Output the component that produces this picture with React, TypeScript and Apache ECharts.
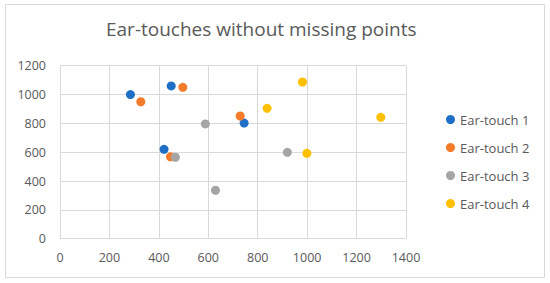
import React, { useEffect, useRef } from "react";
import * as echarts from "echarts";

const seriesNames = ["Ear-touch 1", "Ear-touch 2", "Ear-touch 3", "Ear-touch 4"];
const colors = ["#1F6FC6", "#F47B2A", "#A5A5A5", "#FFC000"];
const touch1: [number, number][] = [[285, 1000], [450, 1060], [421, 620], [745, 802]];
const touch2: [number, number][] = [[327, 950], [497, 1050], [447, 568], [729, 851]];
const touch3: [number, number][] = [[588, 796], [467, 565], [629, 336], [920, 599]];
const touch4: [number, number][] = [[981, 1087], [838, 904], [999, 592], [1298, 842]];
const allData = [touch1, touch2, touch3, touch4];

const FONT = "'Open Sans', sans-serif";

export default function App() {
  const ref = useRef<HTMLDivElement>(null);
  useEffect(() => {
    if (!ref.current) return;
    const chart = echarts.init(ref.current, undefined, { renderer: "svg" });
    chart.setOption({
      animation: false,
      backgroundColor: "#ffffff",
      textStyle: { fontFamily: FONT },
      title: {
        text: "Ear-touches without missing points",
        left: 106,
        top: 19,
        padding: 0,
        textStyle: { fontSize: 19, fontWeight: "normal", color: "#595959", fontFamily: FONT },
      },
      graphic: [
        {
          type: "rect",
          shape: { x: 5.5, y: 4.5, width: 539, height: 273 },
          style: { fill: "none", stroke: "#D9D9D9", lineWidth: 1 },
          silent: true,
        },
      ],
      legend: {
        orient: "vertical",
        left: 441,
        top: 108,
        icon: "circle",
        itemWidth: 9,
        itemHeight: 9,
        itemGap: 15,
        data: seriesNames,
        textStyle: { fontSize: 13, color: "#595959", fontFamily: FONT },
      },
      grid: { left: 60, right: 144, top: 65.7, bottom: 44.3, containLabel: false },
      xAxis: {
        type: "value",
        min: 0,
        max: 1400,
        interval: 200,
        axisLine: { show: true, lineStyle: { color: "#D9D9D9" } },
        axisTick: { show: false },
        splitLine: { show: true, lineStyle: { color: "#D9D9D9" } },
        axisLabel: { color: "#595959", fontSize: 12.5, margin: 12, fontFamily: FONT, formatter: (v: number) => String(v) },
      },
      yAxis: {
        type: "value",
        min: 0,
        max: 1200,
        interval: 200,
        axisLine: { show: true, lineStyle: { color: "#D9D9D9" } },
        axisTick: { show: false },
        splitLine: { show: true, lineStyle: { color: "#D9D9D9" } },
        axisLabel: { color: "#595959", fontSize: 12.5, margin: 14, fontFamily: FONT, formatter: (v: number) => String(v) },
      },
      series: allData.map((d, i) => ({
        name: seriesNames[i],
        type: "scatter",
        data: d,
        symbol: "circle",
        symbolSize: 9,
        itemStyle: { color: colors[i], opacity: 1 },
      })),
    });
    return () => chart.dispose();
  }, []);
  return <div ref={ref} style={{ width: 550, height: 283, position: "absolute", left: 0, top: 0 }} />;
}
